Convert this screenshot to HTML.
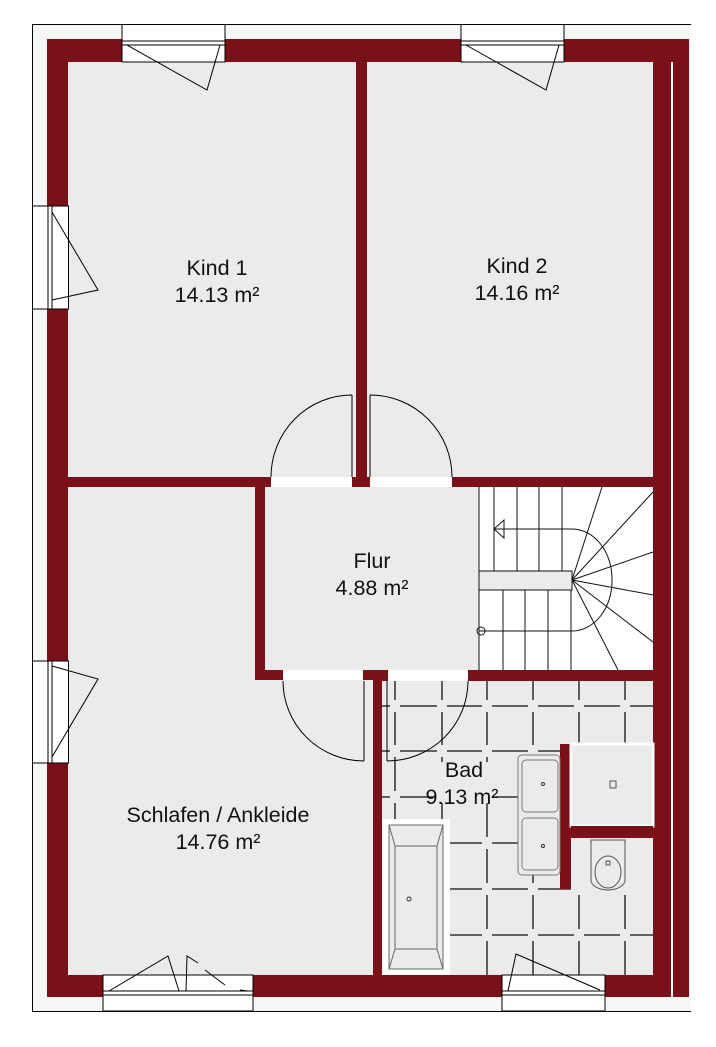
<!DOCTYPE html>
<html><head><meta charset="utf-8"><style>
html,body{margin:0;padding:0;background:#fff;}
svg{display:block;}
text{font-family:"Liberation Sans",Arial,sans-serif;font-size:21.5px;fill:#111;text-anchor:middle;}
</style></head><body>
<svg width="716" height="1047" viewBox="0 0 716 1047" xmlns="http://www.w3.org/2000/svg">
<rect x="32.5" y="24.5" width="700" height="987" fill="#f6f6f6" stroke="#000" stroke-width="1"/>
<rect x="691" y="0" width="25" height="1047" fill="#fff"/>
<rect x="47" y="39" width="642" height="958" fill="#7a1018"/>
<g fill="#ebebeb">
<rect x="68" y="62" width="288" height="415"/>
<rect x="367" y="62" width="286" height="415"/>
<rect x="68" y="487" width="187" height="488"/>
<rect x="255" y="680" width="118" height="295"/>
<rect x="265" y="487" width="214" height="183"/>
<rect x="382" y="681" width="271" height="294"/>
</g>
<rect x="671" y="62" width="2" height="935" fill="#fff"/>
<g fill="#fff">
<rect x="271" y="477" width="81" height="10"/>
<rect x="370" y="477" width="82" height="10"/>
<rect x="283" y="670" width="80" height="10"/>
<rect x="388" y="670" width="80" height="11"/>
</g>
<g stroke="#111" stroke-width="1.3" fill="none">
<path d="M395 681V975 M442 681V975 M487 681V975 M533 681V975 M579 681V975 M625 681V975"/>
<path d="M382 706H653 M382 751H653 M382 797H653 M382 843H653 M382 889H653 M382 935H653"/>
</g>
<g fill="#ebebeb">
<rect x="390" y="700" width="10" height="12"/><rect x="437" y="700" width="10" height="12"/><rect x="482" y="700" width="10" height="12"/><rect x="528" y="700" width="10" height="12"/><rect x="574" y="700" width="10" height="12"/><rect x="620" y="700" width="10" height="12"/>
<rect x="390" y="745" width="10" height="12"/><rect x="437" y="745" width="10" height="12"/><rect x="482" y="745" width="10" height="12"/><rect x="528" y="745" width="10" height="12"/><rect x="574" y="745" width="10" height="12"/><rect x="620" y="745" width="10" height="12"/>
<rect x="390" y="791" width="10" height="12"/><rect x="437" y="791" width="10" height="12"/><rect x="482" y="791" width="10" height="12"/><rect x="528" y="791" width="10" height="12"/><rect x="574" y="791" width="10" height="12"/><rect x="620" y="791" width="10" height="12"/>
<rect x="390" y="837" width="10" height="12"/><rect x="437" y="837" width="10" height="12"/><rect x="482" y="837" width="10" height="12"/><rect x="528" y="837" width="10" height="12"/><rect x="574" y="837" width="10" height="12"/><rect x="620" y="837" width="10" height="12"/>
<rect x="390" y="883" width="10" height="12"/><rect x="437" y="883" width="10" height="12"/><rect x="482" y="883" width="10" height="12"/><rect x="528" y="883" width="10" height="12"/><rect x="574" y="883" width="10" height="12"/><rect x="620" y="883" width="10" height="12"/>
<rect x="390" y="929" width="10" height="12"/><rect x="437" y="929" width="10" height="12"/><rect x="482" y="929" width="10" height="12"/><rect x="528" y="929" width="10" height="12"/><rect x="574" y="929" width="10" height="12"/><rect x="620" y="929" width="10" height="12"/>
</g>
<rect x="560" y="744" width="11" height="145" fill="#7a1018"/>
<rect x="571" y="744" width="82" height="82" fill="#ebebeb" stroke="#fff" stroke-width="3"/>
<rect x="571" y="826" width="82" height="12" fill="#7a1018"/>
<rect x="610" y="781" width="6" height="7" fill="none" stroke="#333" stroke-width="0.8"/>
<rect x="571" y="838" width="82" height="52" fill="#ebebeb"/>
<path d="M591 840H625V880A17 10 0 0 1 591 880Z" fill="#ebebeb" stroke="#555" stroke-width="1"/>
<ellipse cx="608" cy="872" rx="13" ry="16" fill="#ebebeb" stroke="#555"/>
<rect x="606" y="861" width="4" height="4" fill="none" stroke="#333" stroke-width="0.8"/>
<rect x="518" y="755" width="42" height="120" rx="4" fill="#ebebeb" stroke="#777"/>
<rect x="522" y="760" width="36" height="52" rx="4" fill="none" stroke="#777"/>
<rect x="522" y="818" width="36" height="52" rx="4" fill="none" stroke="#777"/>
<circle cx="543" cy="784" r="1.5" fill="none" stroke="#333"/><circle cx="543" cy="846" r="1.5" fill="none" stroke="#333"/>
<rect x="382" y="819" width="68" height="156" fill="#fff"/>
<rect x="389" y="825" width="54" height="144" fill="#ebebeb" stroke="#666"/>
<path d="M389 825L395 846H437L443 825 M389 969L395 949H437L443 969 M395 846V949 M437 846V949" fill="none" stroke="#666"/>
<circle cx="409" cy="899" r="2" fill="none" stroke="#333"/>
<rect x="479" y="487" width="174" height="183" fill="#fff"/>
<rect x="479" y="571" width="93" height="19" fill="#ebebeb"/>
<g stroke="#111" stroke-width="1" fill="none">
<path d="M479 487V670 M494 487V571 M517 487V571 M539 487V571 M562 487V571 M503 590V670 M525 590V670 M548 590V670 M571 590V670"/>
<path d="M479 571H572V590H479"/>
<path d="M572 580L602 487 M572 580L653 492 M572 580L653 552 M572 580L653 595 M572 580L653 642 M572 580L618 670"/>
<path d="M494 529H572A40 50 0 0 1 612 580A40 50 0 0 1 572 631H479"/>
<path d="M504 520L494 529L504 538Z"/>
<circle cx="481" cy="631" r="4"/>
</g>
<g fill="#fff" stroke="#000" stroke-width="1">
<rect x="122" y="24.5" width="103" height="37.5"/>
<rect x="461" y="24.5" width="103" height="37.5"/>
<rect x="32.5" y="206" width="36" height="103"/>
<rect x="32.5" y="661" width="36" height="102"/>
<rect x="103" y="975" width="150" height="36"/>
<rect x="502" y="975" width="103" height="36"/>
</g>
<g stroke="#000" stroke-width="1" fill="none">
<path d="M122 41H225 M122 45H225 M127 45L207 90L220 45"/>
<path d="M461 41H564 M461 45H564 M466 45L546 90L559 45"/>
<path d="M48 206V309 M52 206V309 M52 212L98 290L52 300"/>
<path d="M48 661V763 M52 661V763 M52 666L98 679L52 757"/>
<path d="M103 995H253 M103 991H253 M109 991L168 956L179 991 M186 991L187 956L198 963 M205 970L225 985 M240 990L248 991"/>
<path d="M502 995H605 M502 991H605 M508 991L516 954L600 990"/>
</g>
<g stroke="#000" stroke-width="1" fill="none">
<path d="M352 395V477 M271 477A81 82 0 0 1 352 395"/>
<path d="M370 395V477 M452 477A82 82 0 0 0 370 395"/>
<path d="M364 681V761 M283 681A81 80 0 0 0 364 761"/>
<path d="M387 681V761 M468 681A81 80 0 0 1 387 761"/>
</g>
<text x="217" y="275">Kind 1</text>
<text x="217" y="302">14.13 m²</text>
<text x="517" y="273">Kind 2</text>
<text x="517" y="300">14.16 m²</text>
<text x="372" y="568">Flur</text>
<text x="372" y="595">4.88 m²</text>
<rect x="436" y="762" width="56" height="40" fill="#ebebeb"/>
<text x="464" y="777">Bad</text>
<text x="462" y="804">9.13 m²</text>
<text x="218" y="822">Schlafen / Ankleide</text>
<text x="218" y="849">14.76 m²</text>
</svg>
</body></html>
